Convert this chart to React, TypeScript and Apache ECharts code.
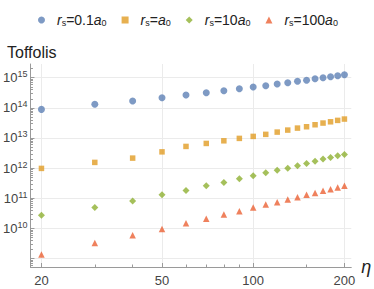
import React, { useEffect, useRef } from 'react';
import * as echarts from 'echarts';

const etaValues = [20, 30, 40, 50, 60, 70, 80, 90, 100, 110, 120, 130, 140, 150, 160, 170, 180, 190, 200];
const toffolisRs01 = [8.9e13, 1.31e14, 1.68e14, 2.17e14, 2.66e14, 3.18e14, 3.7e14, 4.31e14, 4.91e14, 5.42e14, 6.17e14, 6.82e14, 7.59e14, 8.2e14, 9.27e14, 1.0e15, 1.08e15, 1.16e15, 1.26e15];
const toffolisRs1 = [9.8e11, 1.55e12, 2.15e12, 3.47e12, 5.25e12, 6.6e12, 8.07e12, 9.7e12, 1.13e13, 1.32e13, 1.57e13, 1.83e13, 2.13e13, 2.36e13, 2.75e13, 3.13e13, 3.45e13, 3.84e13, 4.25e13];
const toffolisRs10 = [2.75e10, 4.95e10, 8.2e10, 1.3e11, 1.82e11, 2.58e11, 3.35e11, 4.41e11, 5.55e11, 6.98e11, 8.5e11, 1.0e12, 1.19e12, 1.43e12, 1.7e12, 2.0e12, 2.26e12, 2.57e12, 2.85e12];
const toffolisRs100 = [1.36e9, 3.3e9, 5.95e9, 9.6e9, 1.48e10, 2.1e10, 2.9e10, 3.7e10, 4.9e10, 6.2e10, 7.4e10, 9.1e10, 1.09e11, 1.3e11, 1.5e11, 1.77e11, 2.0e11, 2.28e11, 2.58e11];

const seriesNames = ['rs=0.1a0', 'rs=a0', 'rs=10a0', 'rs=100a0'];
const seriesCoefs = ['0.1', '', '10', '100'];
const seriesColors = ['#5E81B5', '#E19C24', '#8FB032', '#EB6235'];
const seriesSymbols = ['circle', 'rect', 'diamond', 'triangle'];
const seriesSizes = [7, 5.5, 7, 6.5];

const xMajorTicks = [20, 50, 100, 200];
const xMinorTicks = [30, 40, 60, 70, 80, 90, 150];
const yMajorTicks = [1e9, 1e10, 1e11, 1e12, 1e13, 1e14, 1e15];
const yLabelTicks = [1e10, 1e11, 1e12, 1e13, 1e14, 1e15];
const yMinorTicks: number[] = [];
for (let e = 8; e <= 15; e++) {
  for (let m = 2; m <= 9; m++) yMinorTicks.push(m * Math.pow(10, e));
}

const X_MIN = 18.4;
const X_MAX = 210.7;
const Y_MIN = 5.25e8;
const Y_MAX = 2.85e15;

const FONT = '"Liberation Sans", Arial, sans-serif';
const AXIS_COLOR = '#9a9a9a';
const GRID_COLOR = '#ebebeb';

export default function App() {
  const ref = useRef<HTMLDivElement>(null);
  useEffect(() => {
    if (!ref.current) return;
    const chart = echarts.init(ref.current, undefined, { renderer: 'svg' });
    const allSeries = [toffolisRs01, toffolisRs1, toffolisRs10, toffolisRs100];
    const option: any = {
      animation: false,
      textStyle: { fontFamily: FONT },
      title: {
        text: 'Toffolis',
        left: 2,
        top: 39,
        textStyle: { fontSize: 16, fontWeight: 'normal', color: '#222', fontFamily: FONT },
      },
      legend: {
        left: 33,
        top: 8,
        itemWidth: 7,
        itemHeight: 7,
        itemGap: 15,
        data: seriesNames,
        formatter: (name: string) => {
          const i = seriesNames.indexOf(name);
          return `{i0|r}{sub|s}{t|=${seriesCoefs[i]}}{i|a}{sub|0}`;
        },
        textStyle: {
          color: '#222',
          fontSize: 14,
          rich: {
            i0: { fontSize: 14, fontStyle: 'italic', color: '#222', fontFamily: FONT, padding: [0, 0, 0, 7] },
            i: { fontSize: 14, fontStyle: 'italic', color: '#222', fontFamily: FONT },
            t: { fontSize: 14, color: '#222', fontFamily: FONT },
            sub: { fontSize: 9, color: '#222', padding: [6, 0, 0, 0], fontFamily: FONT },
          },
        },
      },
      grid: { left: 28, right: 18, top: 64, bottom: 22 },
      xAxis: [
        {
          type: 'log',
          logBase: 10,
          min: X_MIN,
          max: X_MAX,
          name: 'η',
          nameLocation: 'end',
          nameGap: 5,
          nameTextStyle: { fontStyle: 'italic', fontSize: 18, color: '#222', fontFamily: FONT, padding: [6, 0, 0, 0] },
          axisLine: { lineStyle: { color: AXIS_COLOR, width: 1 } },
          axisTick: { inside: true, length: 4, customValues: xMajorTicks, lineStyle: { color: AXIS_COLOR } },
          axisLabel: {
            customValues: xMajorTicks,
            margin: 7,
            fontSize: 13,
            color: '#444',
            fontFamily: FONT,
            formatter: (v: number) => String(Math.round(v)),
          },
          splitLine: { show: true, lineStyle: { color: GRID_COLOR, width: 1 } },
        },
        {
          type: 'log',
          logBase: 10,
          min: X_MIN,
          max: X_MAX,
          position: 'bottom',
          axisLine: { show: false },
          axisLabel: { show: false },
          splitLine: { show: false },
          axisTick: { inside: true, length: 2.5, customValues: xMinorTicks, lineStyle: { color: AXIS_COLOR } },
        },
      ],
      yAxis: [
        {
          type: 'log',
          logBase: 10,
          min: Y_MIN,
          max: Y_MAX,
          position: 'left',
          axisLine: { show: true, lineStyle: { color: AXIS_COLOR, width: 1 } },
          axisTick: { show: true, inside: true, length: 4, customValues: yMajorTicks, lineStyle: { color: AXIS_COLOR } },
          axisLabel: {
            customValues: yLabelTicks,
            margin: 3,
            color: '#444',
            fontFamily: FONT,
            formatter: (v: number) => `{b|10}{s|${Math.round(Math.log10(v))}}`,
            rich: {
              b: { fontSize: 13, color: '#444', fontFamily: FONT },
              s: { fontSize: 9, color: '#444', fontFamily: FONT, padding: [0, 0, 7, 0] },
            },
          },
          splitLine: { show: true, lineStyle: { color: GRID_COLOR, width: 1 } },
        },
        {
          type: 'log',
          logBase: 10,
          min: Y_MIN,
          max: Y_MAX,
          position: 'left',
          axisLine: { show: false },
          axisLabel: { show: false },
          splitLine: { show: false },
          axisTick: { show: true, inside: true, length: 2.5, customValues: yMinorTicks, lineStyle: { color: AXIS_COLOR } },
        },
      ],
      series: allSeries.map((vals, i) => ({
        type: 'scatter',
        name: seriesNames[i],
        xAxisIndex: 0,
        yAxisIndex: 0,
        symbol: seriesSymbols[i],
        symbolSize: seriesSizes[i],
        itemStyle: { color: seriesColors[i] },
        data: etaValues.map((x, j) => [x, vals[j]]),
      })),
    };
    chart.setOption(option);
    return () => chart.dispose();
  }, []);
  return <div ref={ref} style={{ width: 374, height: 289, position: 'absolute', left: 0, top: 0 }} />;
}
